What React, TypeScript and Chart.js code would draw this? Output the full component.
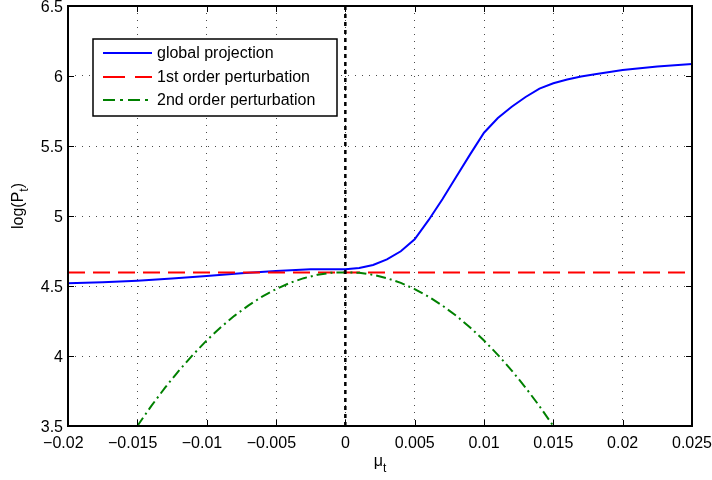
import React, { useEffect, useRef } from 'react';
import { Chart, registerables } from 'chart.js';

Chart.register(...registerables);

const xTickValues = [-0.02, -0.015, -0.01, -0.005, 0, 0.005, 0.01, 0.015, 0.02, 0.025];
const xTickLabels = ['\u22120.02', '\u22120.015', '\u22120.01', '\u22120.005', '0', '0.005', '0.01', '0.015', '0.02', '0.025'];
const yTickValues = [3.5, 4, 4.5, 5, 5.5, 6, 6.5];
const yTickLabels = ['3.5', '4', '4.5', '5', '5.5', '6', '6.5'];

const globalX = [-0.02, -0.0175, -0.015, -0.0125, -0.01, -0.0075, -0.005, -0.0025, 0, 0.001, 0.002, 0.003, 0.004, 0.005, 0.006, 0.007, 0.008, 0.009, 0.01, 0.011, 0.012, 0.013, 0.014, 0.015, 0.016, 0.017, 0.018, 0.02, 0.0225, 0.025];
const globalY = [4.519, 4.527, 4.538, 4.553, 4.572, 4.591, 4.607, 4.619, 4.62, 4.629, 4.65, 4.69, 4.748, 4.833, 4.97, 5.12, 5.28, 5.44, 5.595, 5.7, 5.78, 5.85, 5.91, 5.948, 5.975, 5.997, 6.013, 6.043, 6.067, 6.086];

const firstX = [-0.02, 0.025];
const firstY = [4.597, 4.597];

const secondX = [-0.015, -0.014, -0.013, -0.012, -0.011, -0.01, -0.009, -0.008, -0.007, -0.006, -0.005, -0.004, -0.003, -0.002, -0.001, 0, 0.001, 0.002, 0.003, 0.004, 0.005, 0.006, 0.007, 0.008, 0.009, 0.01, 0.011, 0.012, 0.013, 0.014, 0.015];
const secondY = [3.5, 3.642, 3.774, 3.896, 4.008, 4.111, 4.204, 4.287, 4.36, 4.424, 4.478, 4.522, 4.556, 4.58, 4.595, 4.597, 4.595, 4.58, 4.556, 4.522, 4.478, 4.424, 4.36, 4.287, 4.204, 4.111, 4.008, 3.896, 3.774, 3.642, 3.5];

const zeroLineX = [0, 0];
const zeroLineY = [3.5, 6.5];

const legendLabels = ['global projection', '1st order perturbation', '2nd order perturbation'];

const FONT = '"Liberation Sans", Arial, Helvetica, sans-serif';
const RED_DASH = [17, 8];
const GREEN_DASH = [10, 4, 2, 4];

const toPoints = (xs: number[], ys: number[]) => xs.map((x, i) => ({ x, y: ys[i] }));

const decorPlugin = {
  id: 'decor',
  afterDraw(chart: any) {
    const { ctx, chartArea, scales } = chart;
    const { left, right, top, bottom } = chartArea;
    ctx.save();
    // box
    ctx.setLineDash([]);
    ctx.strokeStyle = '#000';
    ctx.lineWidth = 2;
    ctx.strokeRect(left, top, right - left, bottom - top);
    // inward ticks
    ctx.lineWidth = 1;
    const tl = 6;
    ctx.beginPath();
    xTickValues.forEach((v) => {
      const px = Math.round(scales.x.getPixelForValue(v)) + 0.5;
      ctx.moveTo(px, bottom);
      ctx.lineTo(px, bottom - tl);
      ctx.moveTo(px, top);
      ctx.lineTo(px, top + tl);
    });
    yTickValues.forEach((v) => {
      const py = Math.round(scales.y.getPixelForValue(v)) + 0.5;
      ctx.moveTo(left, py);
      ctx.lineTo(left + tl, py);
      ctx.moveTo(right, py);
      ctx.lineTo(right - tl, py);
    });
    ctx.stroke();

    // legend
    const lx = 93, ly = 39, lw = 244, lh = 77;
    ctx.fillStyle = '#fff';
    ctx.fillRect(lx, ly, lw, lh);
    ctx.lineWidth = 1.5;
    ctx.strokeStyle = '#000';
    ctx.strokeRect(lx, ly, lw, lh);
    const styles = [
      { color: '#0000ff', dash: [] as number[] },
      { color: '#ff0000', dash: [22, 10] },
      { color: '#008000', dash: [12, 5, 3, 5] },
    ];
    const rows = [53, 77, 100];
    ctx.font = '16px ' + FONT;
    ctx.textBaseline = 'middle';
    ctx.textAlign = 'left';
    legendLabels.forEach((lab, i) => {
      ctx.strokeStyle = styles[i].color;
      ctx.setLineDash(styles[i].dash);
      ctx.lineWidth = 2;
      ctx.beginPath();
      ctx.moveTo(103, rows[i]);
      ctx.lineTo(152, rows[i]);
      ctx.stroke();
      ctx.setLineDash([]);
      ctx.fillStyle = '#000';
      ctx.fillText(lab, 157, rows[i] + 1);
    });

    // axis titles
    ctx.fillStyle = '#000';
    const mainF = '16px ' + FONT;
    const subF = '12px ' + FONT;
    ctx.font = mainF;
    const muW = ctx.measureText('\u03bc').width;
    ctx.font = subF;
    const tW = ctx.measureText('t').width;
    const cx = (left + right) / 2;
    const startX = cx - (muW + tW) / 2;
    ctx.textBaseline = 'alphabetic';
    ctx.font = mainF;
    ctx.fillText('\u03bc', startX, 466);
    ctx.font = subF;
    ctx.fillText('t', startX + muW, 472);

    ctx.save();
    ctx.translate(23, 206);
    ctx.rotate(-Math.PI / 2);
    ctx.font = mainF;
    const a = 'log(P';
    const aW = ctx.measureText(a).width;
    const cW = ctx.measureText(')').width;
    ctx.font = subF;
    const sW = ctx.measureText('t').width;
    const total = aW + sW + cW;
    const x0 = -total / 2;
    ctx.font = mainF;
    ctx.fillText(a, x0, 0);
    ctx.font = subF;
    ctx.fillText('t', x0 + aW, 5);
    ctx.font = mainF;
    ctx.fillText(')', x0 + aW + sW, 0);
    ctx.restore();

    ctx.restore();
  },
};

export default function App() {
  const ref = useRef<HTMLCanvasElement | null>(null);
  useEffect(() => {
    if (!ref.current) return;
    const chart = new Chart(ref.current, {
      type: 'line',
      data: {
        datasets: [
          {
            label: legendLabels[0],
            data: toPoints(globalX, globalY),
            borderColor: '#0000ff',
            borderWidth: 2,
            pointRadius: 0,
            tension: 0,
            order: 4,
          },
          {
            label: legendLabels[1],
            data: toPoints(firstX, firstY),
            borderColor: '#ff0000',
            borderWidth: 2,
            borderDash: RED_DASH,
            pointRadius: 0,
            order: 3,
          },
          {
            label: legendLabels[2],
            data: toPoints(secondX, secondY),
            borderColor: '#008000',
            borderWidth: 2,
            borderDash: GREEN_DASH,
            pointRadius: 0,
            tension: 0,
            order: 2,
          },
          {
            label: 'zero',
            data: toPoints(zeroLineX, zeroLineY),
            borderColor: '#000000',
            borderWidth: 2.5,
            borderDash: [4, 4],
            pointRadius: 0,
            order: 1,
          },
        ],
      },
      options: {
        responsive: false,
        animation: false,
        events: [],
        layout: { padding: { left: 0, right: 20, top: 6, bottom: 0 } },
        plugins: { legend: { display: false }, tooltip: { enabled: false } },
        scales: {
          x: {
            type: 'linear',
            min: -0.02,
            max: 0.025,
            afterBuildTicks: (s: any) => {
              s.ticks = xTickValues.map((v) => ({ value: v }));
            },
            afterFit: (s: any) => {
              s.height = 54;
              s.paddingLeft = 0;
              s.paddingRight = 0;
            },
            ticks: {
              autoSkip: false,
              maxRotation: 0,
              padding: 8,
              color: '#000',
              font: { family: FONT, size: 16 },
              callback: (v: any) => {
                const i = xTickValues.findIndex((t) => Math.abs(t - Number(v)) < 1e-9);
                if (i < 0) return '';
                const lab = xTickLabels[i];
                // MATLAB centres the digits; the minus sign hangs to the left
                return lab.startsWith('\u2212') ? lab + '\u2002\u200a' : lab;
              },
            },
            grid: { color: 'rgba(0,0,0,0.7)', lineWidth: 1, drawTicks: false },
            border: { display: false, dash: [1, 6] },
          },
          y: {
            type: 'linear',
            min: 3.5,
            max: 6.5,
            afterBuildTicks: (s: any) => {
              s.ticks = yTickValues.map((v) => ({ value: v }));
            },
            afterFit: (s: any) => {
              s.width = 68;
              s.paddingTop = 0;
              s.paddingBottom = 0;
            },
            ticks: {
              autoSkip: false,
              padding: 5,
              labelOffset: 2,
              color: '#000',
              font: { family: FONT, size: 16 },
              callback: (v: any) => {
                const i = yTickValues.findIndex((t) => Math.abs(t - Number(v)) < 1e-9);
                return i >= 0 ? yTickLabels[i] : '';
              },
            },
            grid: { color: 'rgba(0,0,0,0.7)', lineWidth: 1, drawTicks: false },
            border: { display: false, dash: [1, 6] },
          },
        },
      },
      plugins: [decorPlugin],
    } as any);
    return () => chart.destroy();
  }, []);
  return (
    <div style={{ position: 'absolute', left: 0, top: 0, width: 712, height: 480, background: '#fff' }}>
      <canvas ref={ref} width={712} height={480} />
    </div>
  );
}
